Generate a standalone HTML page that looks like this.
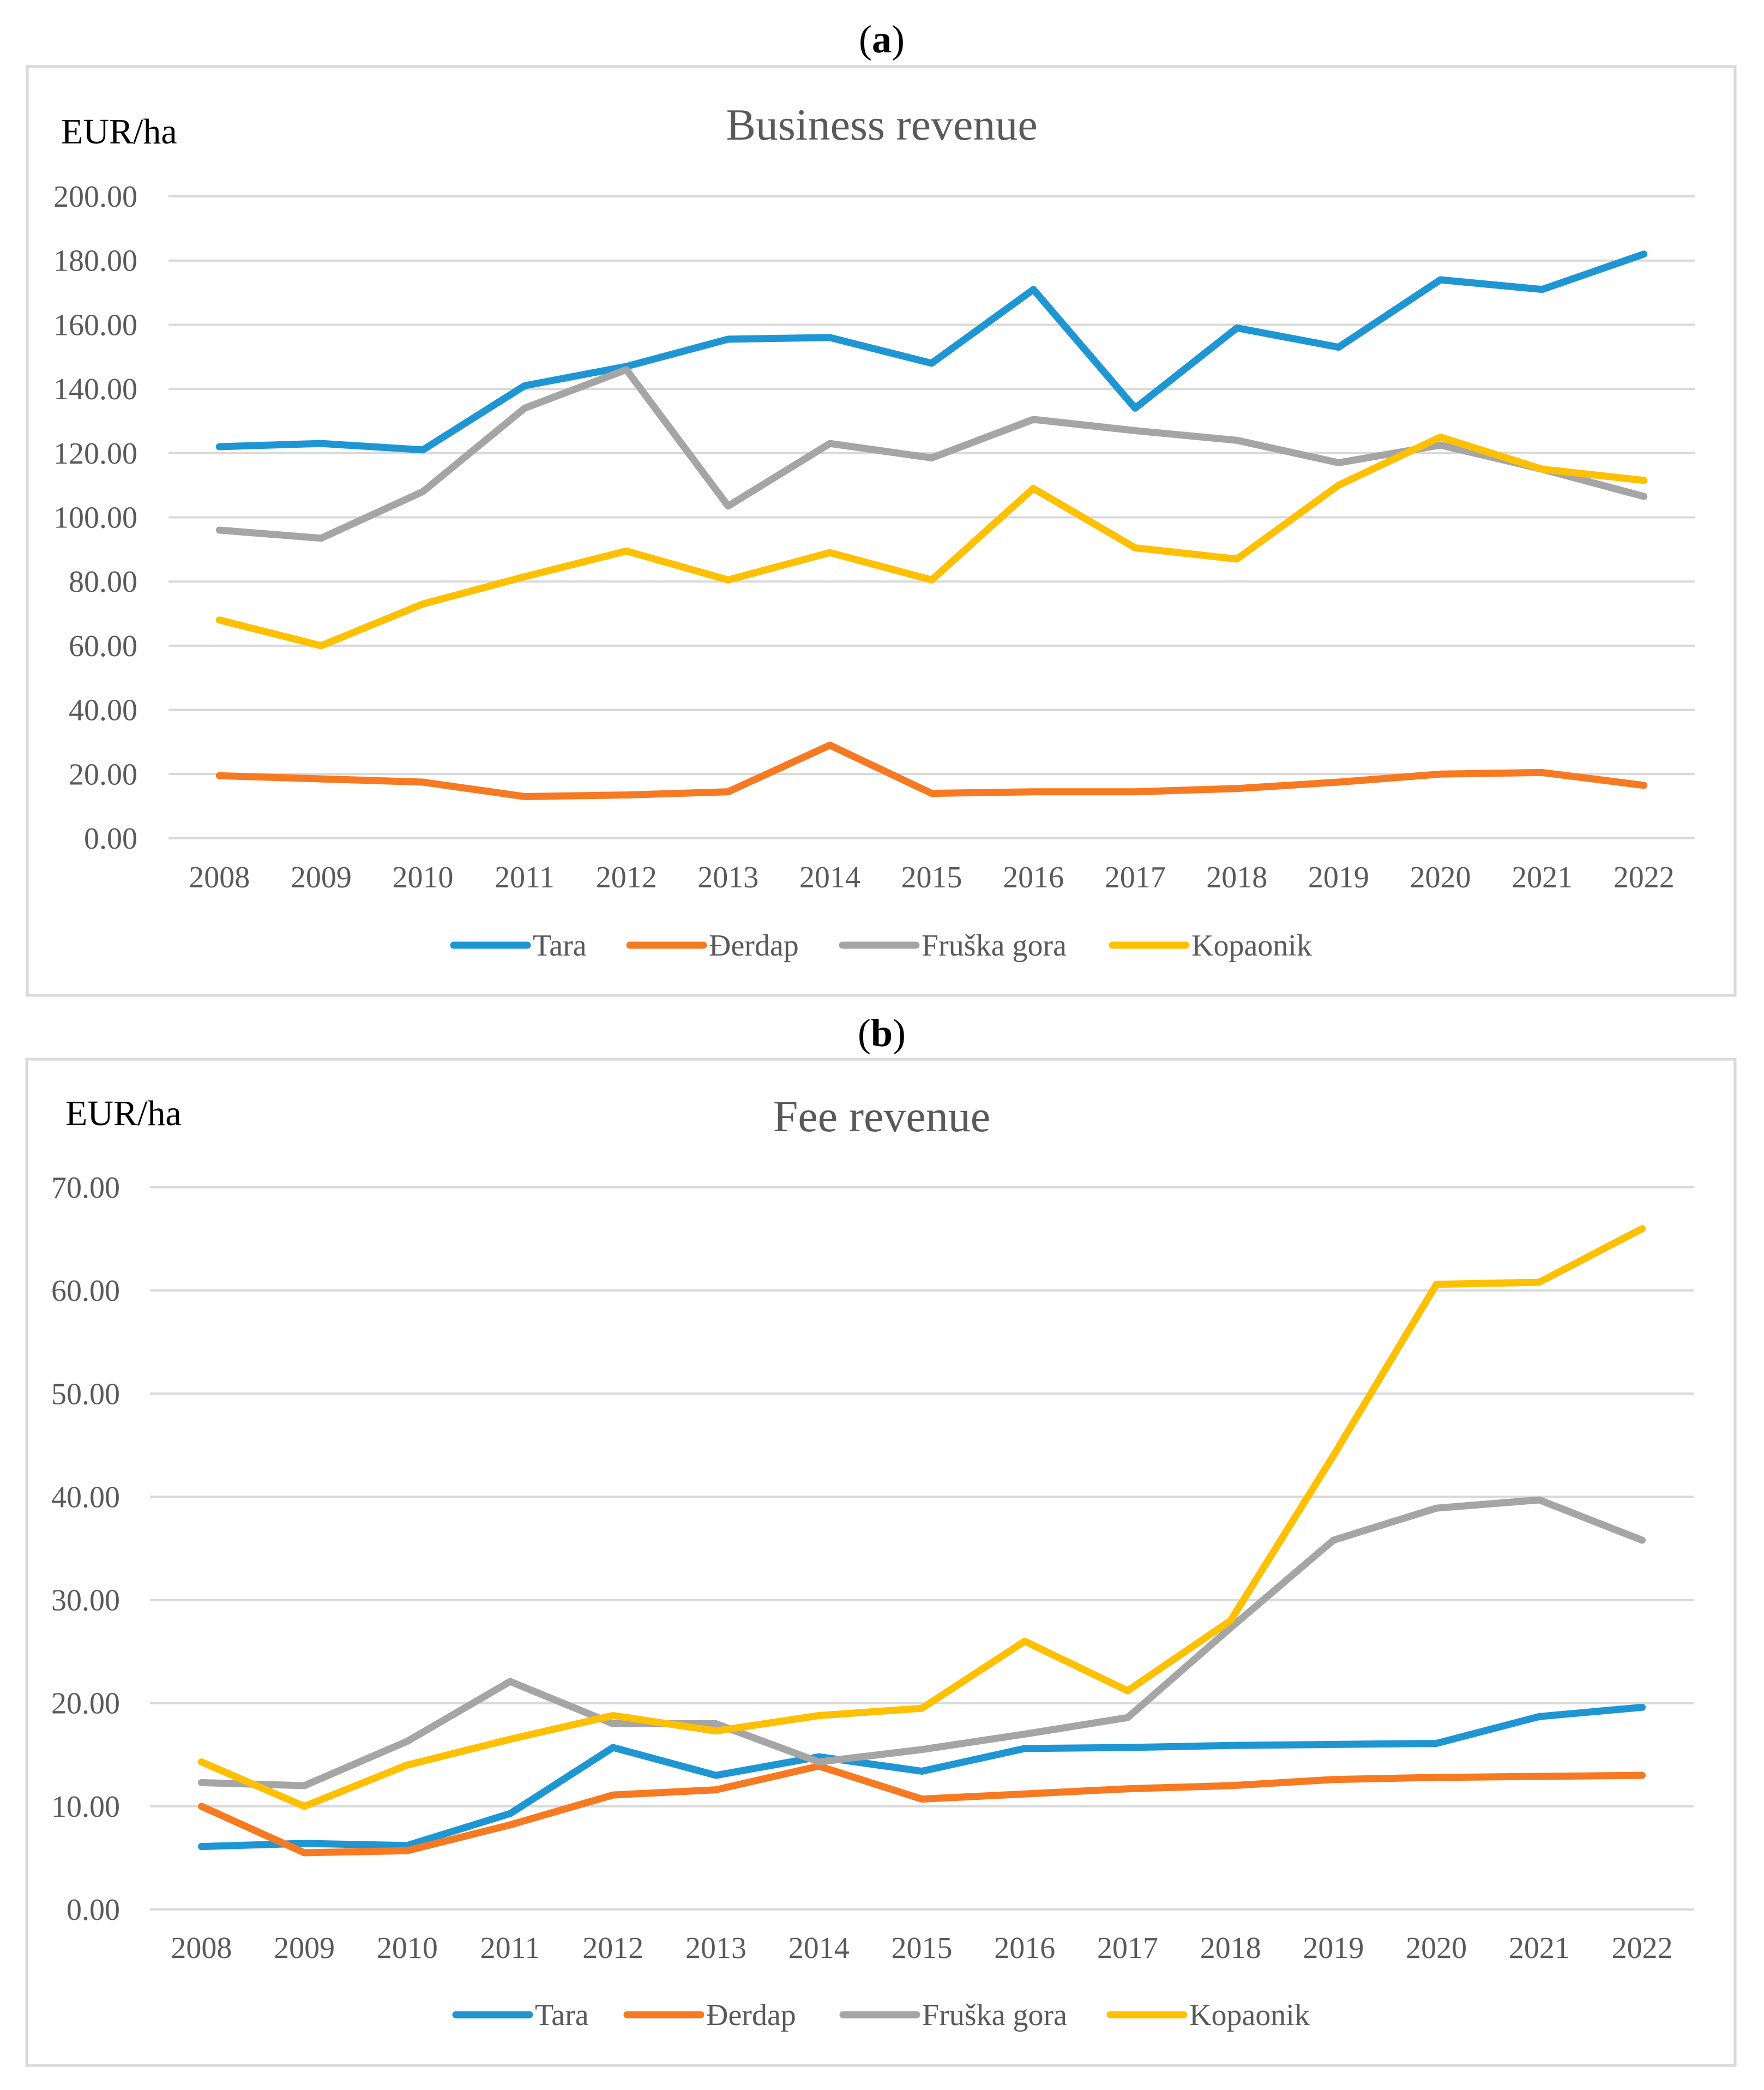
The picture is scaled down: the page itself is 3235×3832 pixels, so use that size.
<!DOCTYPE html>
<html><head><meta charset="utf-8">
<style>
html,body{margin:0;padding:0;background:#fff;}
svg{display:block;}
svg text{font-family:"Liberation Serif","Times New Roman",serif;}
</style></head>
<body>
<svg id="fig" width="3235" height="3832" viewBox="0 0 3235 3832" xmlns="http://www.w3.org/2000/svg" font-family="Liberation Serif, serif">
<text x="1617" y="96" font-size="72" text-anchor="middle" fill="#000" font-family="Liberation Serif, serif">(<tspan font-weight="bold">a</tspan>)</text>
<rect x="50" y="122" width="3132" height="1703" fill="#fff" stroke="#d9d9d9" stroke-width="5"/>
<text x="112" y="263" font-size="66" fill="#000" font-family="Liberation Serif, serif">EUR/ha</text>
<text x="1617" y="256" font-size="82" text-anchor="middle" fill="#595959" font-family="Liberation Serif, serif">Business revenue</text>
<g id="chartA"></g>
<g id="legendA"></g>

<text x="1617" y="1918" font-size="72" text-anchor="middle" fill="#000" font-family="Liberation Serif, serif">(<tspan font-weight="bold">b</tspan>)</text>
<rect x="49" y="1942" width="3133" height="1845" fill="#fff" stroke="#d9d9d9" stroke-width="5"/>
<text x="120" y="2063" font-size="66" fill="#000" font-family="Liberation Serif, serif">EUR/ha</text>
<text x="1617" y="2074" font-size="82" text-anchor="middle" fill="#595959" font-family="Liberation Serif, serif">Fee revenue</text>
<g id="chartB"></g>
<g id="legendB"></g>
</svg>
<script>
const years = ["2008","2009","2010","2011","2012","2013","2014","2015","2016","2017","2018","2019","2020","2021","2022"];
const seriesNames = ["Tara","Đerdap","Fruška gora","Kopaonik"];
const seriesColors = ["#1f96d4","#f77a22","#a5a5a5","#ffc000"];
const ticksA = [0,20,40,60,80,100,120,140,160,180,200];
const ticksB = [0,10,20,30,40,50,60,70];
const businessTara = [122,123,121,141,147,155.5,156,148,171,134,159,153,174,171,182];
const businessDerdap = [19.5,18.5,17.5,13,13.5,14.5,29,14,14.5,14.5,15.5,17.5,20,20.5,16.5];
const businessFruska = [96,93.5,108,134,146,103.5,123,118.5,130.5,127,124,117,122.5,115,106.5];
const businessKopaonik = [68,60,73,81.5,89.5,80.5,89,80.5,109,90.5,87,110,125,115,111.5];
const feeTara = [6.1,6.4,6.2,9.3,15.7,13.0,14.8,13.4,15.6,15.7,15.9,16.0,16.1,18.7,19.6];
const feeDerdap = [10.0,5.5,5.7,8.2,11.1,11.6,13.9,10.7,11.2,11.7,12.0,12.6,12.8,12.9,13.0];
const feeFruska = [12.3,12.0,16.3,22.1,18.0,18.0,14.3,15.5,17.0,18.6,27.3,35.8,38.9,39.7,35.8];
const feeKopaonik = [14.3,10.0,14.0,16.5,18.8,17.3,18.8,19.5,26.0,21.2,28.0,44.0,60.6,60.8,66.0];

const NS="http://www.w3.org/2000/svg";
const FONT="Liberation Serif, serif";
function mk(tag,attrs,parent){const e=document.createElementNS(NS,tag);for(const k in attrs)e.setAttribute(k,attrs[k]);parent.appendChild(e);return e;}

function drawChart(g,cfg,series,ticks,prefix){
  const x=i=>cfg.left+(i+0.5)*(cfg.right-cfg.left)/years.length;
  const y=v=>cfg.y0-(v-ticks[0])/(ticks[ticks.length-1]-ticks[0])*(cfg.y0-cfg.yTop);
  ticks.forEach(t=>{
    const l=mk('line',{x1:cfg.left,x2:cfg.right,y1:y(t),y2:y(t),stroke:'#d9d9d9','stroke-width':4},g);
    
    
    const tx=mk('text',{x:cfg.labelRight,y:y(t)+19,'font-size':56,'text-anchor':'end',fill:'#595959','font-family':FONT},g);
    tx.textContent=t.toFixed(2);
    
    
  });
  years.forEach((yr,i)=>{
    const tx=mk('text',{x:x(i),y:cfg.yearY+19,'font-size':56,'text-anchor':'middle',fill:'#595959','font-family':FONT},g);
    tx.textContent=yr;
    
    
  });
  series.forEach((vals,s)=>{
    const pts=vals.map((v,i)=>x(i).toFixed(1)+','+y(v).toFixed(1)).join(' ');
    const p=mk('polyline',{points:pts,fill:'none',stroke:seriesColors[s],'stroke-width':13,'stroke-linejoin':'round','stroke-linecap':'round'},g);
    
    
  });
}
function drawLegend(g,ly,xs){
  seriesNames.forEach((n,s)=>{
    const l=mk('line',{x1:xs[s],x2:xs[s]+135,y1:ly,y2:ly,stroke:seriesColors[s],'stroke-width':13,'stroke-linecap':'round'},g);
    
    
    const t=mk('text',{x:xs[s]+145,y:ly+19,'font-size':56,fill:'#595959','font-family':FONT},g);
    t.textContent=n;
    
    
  });
}
drawChart(document.getElementById('chartA'),{left:309,right:3108,y0:1537,yTop:360,labelRight:252,yearY:1608},
  [businessTara,businessDerdap,businessFruska,businessKopaonik],ticksA,'business');
drawLegend(document.getElementById('legendA'),1733,[832,1155,1545,2040]);
drawChart(document.getElementById('chartB'),{left:275,right:3106,y0:3501,yTop:2177,labelRight:220,yearY:3571},
  [feeTara,feeDerdap,feeFruska,feeKopaonik],ticksB,'fee');
drawLegend(document.getElementById('legendB'),3694,[836,1150,1546,2036]);
</script>
</body></html>
